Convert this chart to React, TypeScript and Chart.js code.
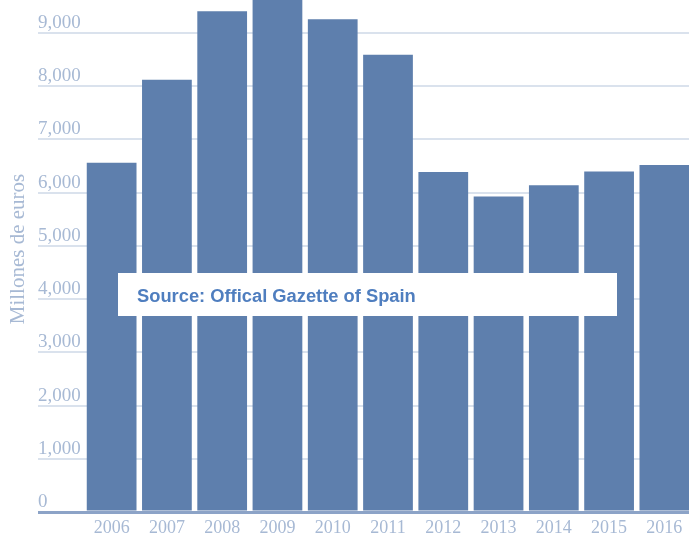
import React, { useEffect, useRef } from "react";
import { Chart, registerables } from "chart.js";

Chart.register(...registerables);

const years = ["2006", "2007", "2008", "2009", "2010", "2011", "2012", "2013", "2014", "2015", "2016"];
const spending = [6560, 8120, 9410, 9750, 9260, 8590, 6390, 5930, 6140, 6400, 6520];
const yTickValues = [0, 1000, 2000, 3000, 4000, 5000, 6000, 7000, 8000, 9000];
const yAxisTitle = "Millones de euros";
const sourceNote = "Source: Offical Gazette of Spain";
const yMax = 9620;

const BAR = "#5E7FAD";
const LABEL = "#A7B9D4";
const GRID = "#DAE2ED";
const AXIS = "#8CA3C7";

const overlayPlugin = {
  id: "overlay",
  afterDraw(chart: any) {
    const ctx = chart.ctx as CanvasRenderingContext2D;
    ctx.save();
    ctx.fillStyle = LABEL;
    ctx.font = "21px 'Liberation Serif', serif";
    ctx.textAlign = "center";
    ctx.textBaseline = "middle";
    ctx.translate(18, 249);
    ctx.rotate(-Math.PI / 2);
    ctx.fillText(yAxisTitle, 0, 0);
    ctx.restore();

    ctx.save();
    ctx.fillStyle = "#FFFFFF";
    ctx.fillRect(118, 273, 499, 43);
    let size = 17;
    ctx.font = `bold ${size}px 'Liberation Sans', sans-serif`;
    const w = ctx.measureText(sourceNote).width;
    size = (size * 279) / w;
    ctx.font = `bold ${size}px 'Liberation Sans', sans-serif`;
    ctx.fillStyle = "#4F7EBF";
    ctx.textAlign = "left";
    ctx.textBaseline = "middle";
    ctx.fillText(sourceNote, 137, 297);
    ctx.restore();
  },
};

export default function App() {
  const ref = useRef<HTMLCanvasElement | null>(null);
  useEffect(() => {
    if (!ref.current) return;
    const chart = new Chart(ref.current, {
      type: "bar",
      data: {
        labels: years,
        datasets: [
          {
            data: spending,
            backgroundColor: BAR,
            borderWidth: 0,
            barPercentage: 0.9,
            categoryPercentage: 1,
          },
        ],
      },
      plugins: [overlayPlugin],
      options: {
        animation: false,
        responsive: false,
        devicePixelRatio: 1,
        layout: { padding: { left: 38, right: 0, top: 0, bottom: 0 } },
        plugins: { legend: { display: false }, tooltip: { enabled: false } },
        scales: {
          x: {
            z: 1,
            grid: { display: false, drawTicks: false },
            border: { display: true, color: AXIS, width: 3 },
            ticks: {
              color: LABEL,
              font: { family: "'Liberation Serif', serif", size: 18 },
              padding: 5,
              maxRotation: 0,
            },
            afterFit: (s: any) => {
              s.height = 23;
            },
          },
          y: {
            min: 0,
            max: yMax,
            border: { display: false },
            afterBuildTicks: (s: any) => {
              s.ticks = yTickValues.map((v) => ({ value: v }));
            },
            grid: {
              color: (c: any) => (c.tick && c.tick.value === 0 ? AXIS : GRID),
              lineWidth: (c: any) => (c.tick && c.tick.value === 0 ? 3 : 2),
              drawTicks: true,
              tickLength: 46,
            },
            ticks: {
              autoSkip: false,
              mirror: true,
              padding: -46,
              labelOffset: -10,
              color: LABEL,
              font: { family: "'Liberation Serif', serif", size: 19 },
              callback: (v: any) => Number(v).toLocaleString("en-US"),
            },
            afterFit: (s: any) => {
              s.width = 46;
            },
          },
        },
      },
    });
    return () => chart.destroy();
  }, []);
  return (
    <div style={{ position: "fixed", left: 0, top: 0, width: 689, height: 535, overflow: "hidden", background: "#fff" }}>
      <canvas ref={ref} width={692} height={535} style={{ width: 692, height: 535, display: "block" }} />
    </div>
  );
}
